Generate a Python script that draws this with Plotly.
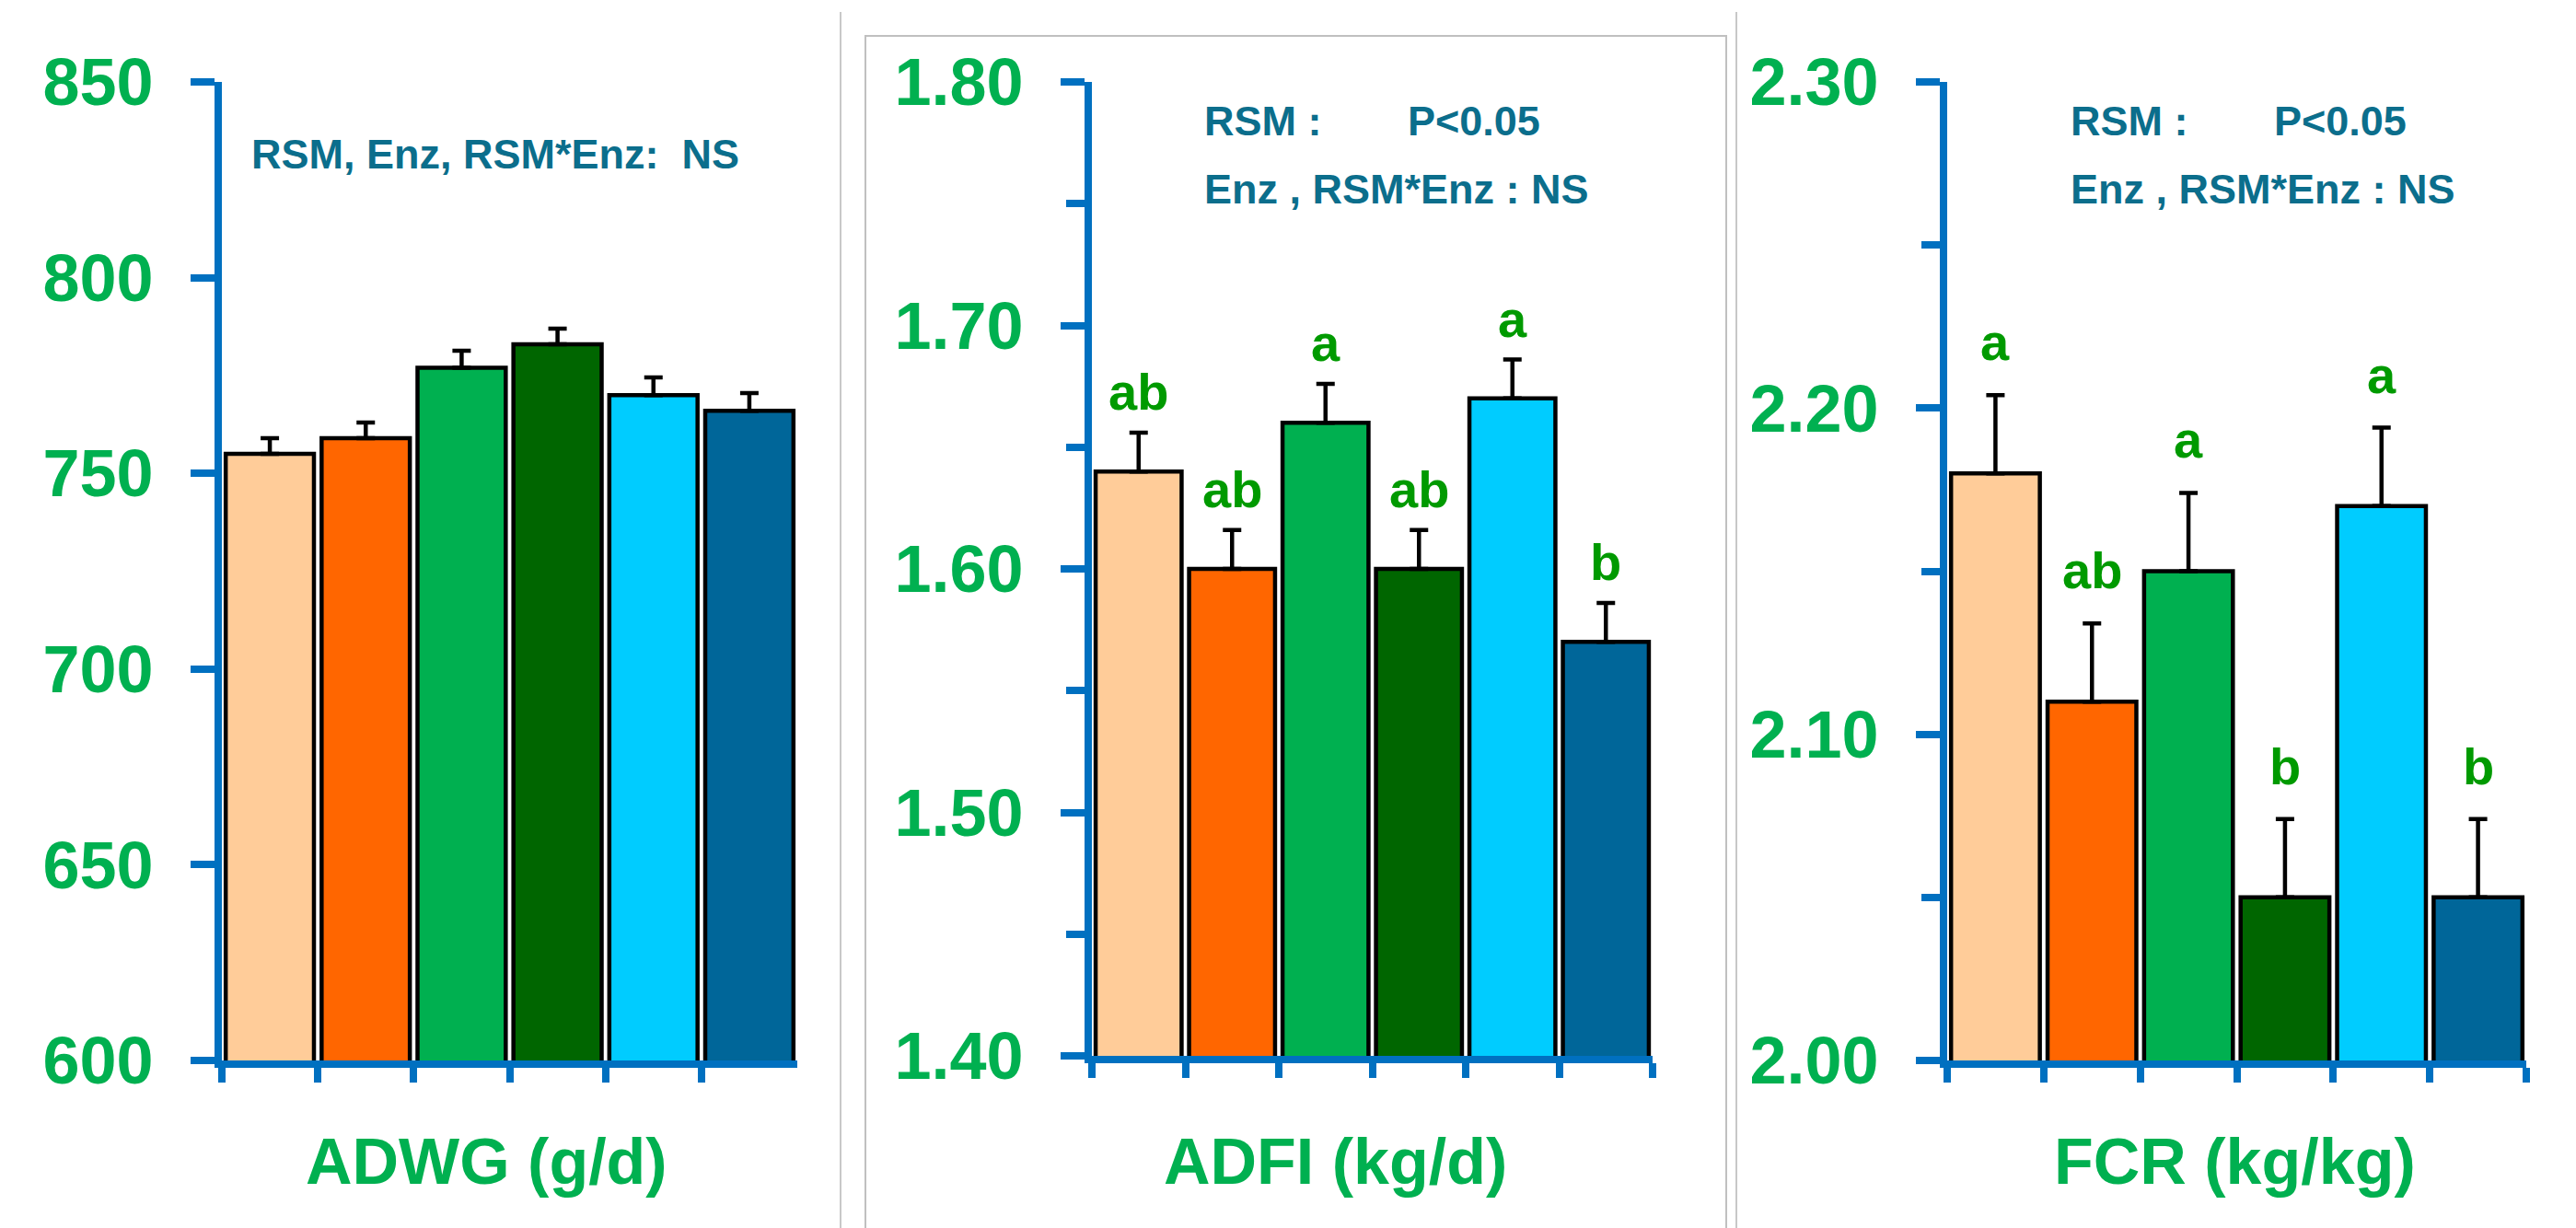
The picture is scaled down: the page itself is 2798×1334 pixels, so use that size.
import plotly.graph_objects as go

W, H = 2798, 1334
OFF = 8  # default page margin of the html body

# ---------------- data ----------------
treatments = ["T1", "T2", "T3", "T4", "T5", "T6"]
bar_colors = ["#FFCC99", "#FF6600", "#00B050", "#006600", "#00CCFF", "#006699"]

adwg = [755, 759, 777, 783, 770, 766]
adwg_se = [4.0, 4.0, 4.3, 4.0, 4.5, 4.5]
adwg_letters = ["", "", "", "", "", ""]

adfi = [1.64, 1.60, 1.66, 1.60, 1.67, 1.57]
adfi_se = [0.016, 0.016, 0.016, 0.016, 0.016, 0.016]
adfi_letters = ["ab", "ab", "a", "ab", "a", "b"]

fcr = [2.18, 2.11, 2.15, 2.05, 2.17, 2.05]
fcr_se = [0.024, 0.024, 0.024, 0.024, 0.024, 0.024]
fcr_letters = ["a", "ab", "a", "b", "a", "b"]

titles = ["ADWG (g/d)", "ADFI (kg/d)", "FCR (kg/kg)"]
stat_single = "RSM, Enz, RSM*Enz:  NS"
stat_line1_a = "RSM :"
stat_line1_b = "P<0.05"
stat_line2 = "Enz , RSM*Enz : NS"

# ---------------- style ----------------
FONT = "Liberation Sans, Arial, sans-serif"
AXIS_BLUE = "#0070C0"
TICK_GREEN = "#00B050"
LETTER_GREEN = "#009A00"
STAT_TEAL = "#0B6E8C"


def px(x):
    return (x - OFF) / W


def py(y):
    return 1 - (y - OFF) / H


panels = [
    dict(vals=adwg, se=adwg_se, letters=adwg_letters, rng=[600, 850], dtick=50,
         minor=None, fmt="d", xd=(241, 866), yd=(89, 1152), lshift=20,
         title_x=528),
    dict(vals=adfi, se=adfi_se, letters=adfi_letters, rng=[1.40, 1.80], dtick=0.1,
         minor=0.05, fmt=".2f", xd=(1186, 1795), yd=(89, 1147), lshift=11,
         title_x=1450),
    dict(vals=fcr, se=fcr_se, letters=fcr_letters, rng=[2.00, 2.30], dtick=0.1,
         minor=0.05, fmt=".2f", xd=(2115, 2744), yd=(89, 1152), lshift=24,
         title_x=2427),
]

fig = go.Figure()
annotations = []

for i, p in enumerate(panels):
    n = "" if i == 0 else str(i + 1)
    xa, ya = "x" + n, "y" + n
    fig.add_trace(go.Bar(
        x=treatments, y=p["vals"], xaxis=xa, yaxis=ya,
        marker=dict(color=bar_colors, line=dict(color="black", width=4.5)),
        error_y=dict(type="data", symmetric=False, array=p["se"],
                     arrayminus=[0] * len(p["se"]), color="black",
                     thickness=4.5, width=10),
        showlegend=False, hoverinfo="skip",
    ))
    xaxis = dict(
        domain=[px(p["xd"][0]), px(p["xd"][1])], anchor=ya, automargin=False,
        type="category", tickson="boundaries", ticks="outside", ticklen=16,
        tickwidth=8, tickcolor=AXIS_BLUE, showticklabels=False,
        showline=True, linecolor=AXIS_BLUE, linewidth=8,
        showgrid=False, zeroline=False, fixedrange=True,
    )
    yaxis = dict(
        domain=[py(p["yd"][1]), py(p["yd"][0])], anchor=xa, automargin=False,
        range=p["rng"], dtick=p["dtick"], tick0=p["rng"][0],
        tickformat=p["fmt"], ticks="outside", ticklen=26, tickwidth=8,
        tickcolor=AXIS_BLUE, showline=True, linecolor=AXIS_BLUE, linewidth=8,
        showgrid=False, zeroline=False, ticklabelstandoff=26,
        tickfont=dict(family=FONT, size=72, color=TICK_GREEN, weight="bold"),
    )
    if p["minor"]:
        yaxis["minor"] = dict(dtick=p["minor"], tick0=p["rng"][0], ticks="outside",
                              ticklen=20, tickwidth=8, tickcolor=AXIS_BLUE,
                              showgrid=False)
    fig.update_layout(**{"xaxis" + n: xaxis, "yaxis" + n: yaxis})

    # significance letters
    for t, v, s, lab in zip(treatments, p["vals"], p["se"], p["letters"]):
        if lab:
            annotations.append(dict(
                x=t, y=v + s, xref=xa, yref=ya, text="<b>%s</b>" % lab,
                showarrow=False, xanchor="center", yanchor="bottom",
                yshift=p["lshift"],
                font=dict(family=FONT, size=56, color=LETTER_GREEN),
            ))

    # axis title
    annotations.append(dict(
        x=px(p["title_x"]), y=py(1262), xref="paper", yref="paper",
        text="<b>%s</b>" % titles[i], showarrow=False,
        xanchor="center", yanchor="middle",
        font=dict(family=FONT, size=70, color=TICK_GREEN),
    ))

# statistics text
stat_font = dict(family=FONT, size=45, color=STAT_TEAL)
annotations.append(dict(x=px(271), y=py(167), xref="paper", yref="paper",
                        text="<b>%s</b>" % stat_single, showarrow=False,
                        xanchor="left", yanchor="middle", font=stat_font))
for x1, x2 in [(1306, 1527), (2247, 2468)]:
    annotations.append(dict(x=px(x1), y=py(132), xref="paper", yref="paper",
                            text="<b>%s</b>" % stat_line1_a, showarrow=False,
                            xanchor="left", yanchor="middle", font=stat_font))
    annotations.append(dict(x=px(x2), y=py(132), xref="paper", yref="paper",
                            text="<b>%s</b>" % stat_line1_b, showarrow=False,
                            xanchor="left", yanchor="middle", font=stat_font))
    annotations.append(dict(x=px(x1), y=py(205), xref="paper", yref="paper",
                            text="<b>%s</b>" % stat_line2, showarrow=False,
                            xanchor="left", yanchor="middle", font=stat_font))

shapes = [
    dict(type="line", xref="paper", yref="paper", x0=px(913), x1=px(913),
         y0=py(13), y1=0, line=dict(color="#C8C8C8", width=2)),
    dict(type="line", xref="paper", yref="paper", x0=px(1886), x1=px(1886),
         y0=py(13), y1=0, line=dict(color="#C8C8C8", width=2)),
    dict(type="rect", xref="paper", yref="paper", x0=px(940), x1=px(1875),
         y0=-0.01, y1=py(39), line=dict(color="#C0C0C0", width=2)),
]

fig.update_layout(
    width=W, height=H, margin=dict(l=0, r=0, t=0, b=0, autoexpand=False),
    paper_bgcolor="white", plot_bgcolor="white",
    bargap=0.08, annotations=annotations, shapes=shapes,
    font=dict(family=FONT),
)

fig.write_html("out.html")
